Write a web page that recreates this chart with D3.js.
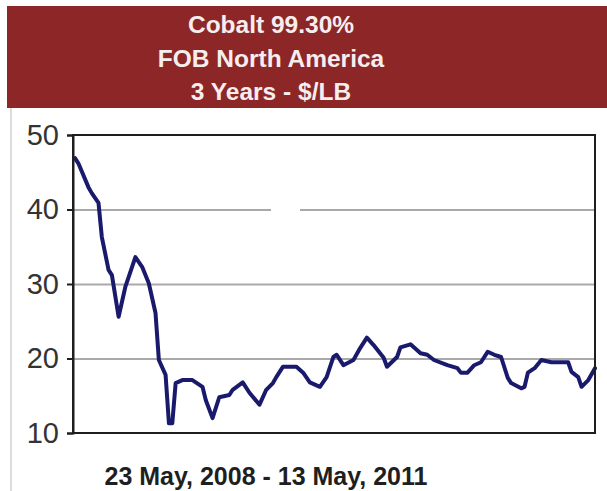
<!DOCTYPE html>
<html>
<head>
<meta charset="utf-8">
<script src="https://cdn.jsdelivr.net/npm/d3@7"></script>
<style>
  html, body { margin: 0; padding: 0; background: #fff; }
  svg { display: block; font-family: "Liberation Sans", Arial, sans-serif; }
</style>
</head>
<body>
<svg id="chart" width="607" height="491"></svg>
<script>
// Weekly cobalt price, 99.30% FOB North America ($/lb)
const startDate = new Date(2008, 4, 23);
const endDate = new Date(2011, 4, 13);
const titleLines = ["Cobalt 99.30%", "FOB North America", "3 Years - $/LB"];
const periodLabel = "23 May, 2008 - 13 May, 2011";
const yTicks = [10, 20, 30, 40, 50];

// week offsets from the start date
const weeks = [
  0, 1, 4, 5, 7, 8, 10, 11, 13, 15, 18, 20, 22, 24, 25, 27, 28, 29, 30, 32,
  35, 38, 39, 41, 43, 46, 47, 50, 52, 55, 57, 59, 60, 62, 66, 68, 70, 73, 75, 77,
  78, 80, 83, 85, 87, 89, 92, 93, 96, 97, 100, 101, 103, 105, 107, 111, 114, 115, 117, 119,
  121, 123, 125, 127, 129, 130, 133, 134, 135, 137, 139, 142, 147, 148, 150, 151, 153, 155
];
// price in $/lb for each week above
const prices = [
  46.9, 46.2, 43.0, 42.2, 40.9, 36.3, 31.9, 31.2, 25.6, 29.6, 33.6, 32.3, 30.1, 26.1, 19.8, 17.8, 11.3, 11.3, 16.7, 17.1,
  17.1, 16.2, 14.4, 12.0, 14.8, 15.1, 15.8, 16.8, 15.4, 13.8, 15.8, 16.7, 17.5, 18.9, 18.9, 18.1, 16.8, 16.2, 17.5, 20.2,
  20.5, 19.1, 19.8, 21.4, 22.8, 21.8, 20.1, 18.9, 20.2, 21.5, 21.9, 21.5, 20.7, 20.5, 19.8, 19.1, 18.7, 18.1, 18.1, 19.1,
  19.5, 20.9, 20.5, 20.2, 17.4, 16.7, 16.0, 16.2, 18.1, 18.7, 19.8, 19.5, 19.5, 18.2, 17.5, 16.2, 17.1, 18.7
];

const data = weeks.map((w, i) => ({ date: d3.timeDay.offset(startDate, w * 7), value: prices[i] }));

const svg = d3.select("#chart");
const frame = { left: 73, right: 595, top: 135, bottom: 433 };

// thin grey rule down the left edge of the panel
svg.append("line")
  .attr("x1", 11).attr("x2", 11).attr("y1", 108).attr("y2", 491)
  .attr("stroke", "#dcdcdc").attr("stroke-width", 2);

// title banner
svg.append("rect")
  .attr("x", 7).attr("y", 6).attr("width", 600).attr("height", 102)
  .attr("fill", "#8c2627");
svg.append("g")
  .selectAll("text")
  .data(titleLines)
  .join("text")
  .attr("x", 271)
  .attr("y", (d, i) => 33 + i * 33.5)
  .attr("text-anchor", "middle")
  .attr("fill", "#f6eeee")
  .attr("font-size", 24.5)
  .attr("font-weight", "bold")
  .text(d => d);

const x = d3.scaleTime().domain([startDate, endDate]).range([frame.left + 2, frame.right]);
const y = d3.scaleLinear().domain([10, 50]).range([frame.bottom, frame.top]);

// horizontal gridlines
const grid = svg.append("g")
  .attr("transform", `translate(${frame.left},0)`)
  .call(d3.axisLeft(y).tickValues(yTicks.slice(1, -1)).tickSize(-(frame.right - frame.left)).tickFormat(""));
grid.select(".domain").remove();
grid.selectAll("line").attr("stroke", "#a9a9a9").attr("stroke-width", 2);

// small break in the 40 gridline
svg.append("rect")
  .attr("x", 271).attr("y", y(40) - 3).attr("width", 29).attr("height", 6)
  .attr("fill", "#fff");

// price line
svg.append("path")
  .datum(data)
  .attr("fill", "none")
  .attr("stroke", "#1a1a6c")
  .attr("stroke-width", 4)
  .attr("stroke-linejoin", "round")
  .attr("stroke-linecap", "round")
  .attr("d", d3.line().x(d => x(d.date)).y(d => y(d.value)));

// plot frame
svg.append("rect")
  .attr("x", frame.left).attr("y", frame.top)
  .attr("width", frame.right - frame.left).attr("height", frame.bottom - frame.top)
  .attr("fill", "none").attr("stroke", "#1e1e1e").attr("stroke-width", 2);

// y axis with outside ticks
const yAxis = svg.append("g")
  .attr("transform", `translate(${frame.left},0)`)
  .call(d3.axisLeft(y).tickValues(yTicks).tickSize(6).tickPadding(8));
yAxis.select(".domain").attr("stroke", "#1e1e1e").attr("stroke-width", 2);
yAxis.selectAll(".tick line").attr("stroke", "#1e1e1e").attr("stroke-width", 2);
yAxis.selectAll(".tick text")
  .attr("font-family", "'Liberation Sans', Arial, sans-serif")
  .attr("font-size", 29)
  .attr("fill", "#333");

// date range caption
svg.append("text")
  .attr("x", 266).attr("y", 485)
  .attr("text-anchor", "middle")
  .attr("font-size", 25)
  .attr("font-weight", "bold")
  .attr("fill", "#1f1f1f")
  .text(periodLabel);
</script>
</body>
</html>
